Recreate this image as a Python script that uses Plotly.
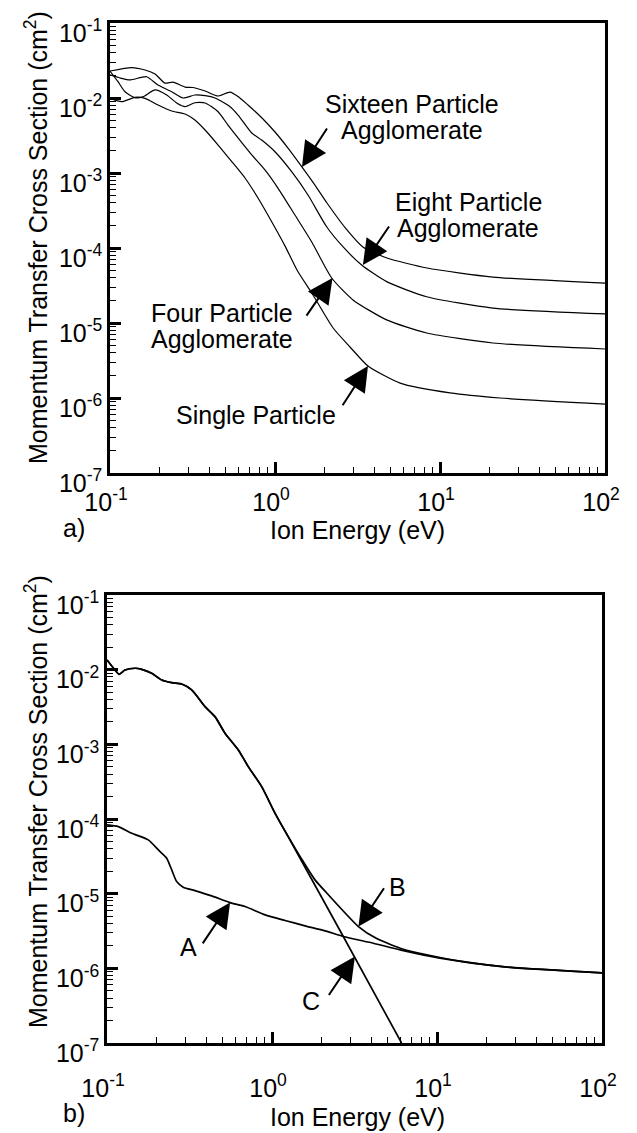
import math
import plotly.graph_objects as go

# ---------------- Panel a) data (Ion energy in eV, cross section in cm^2) ----------------
e16 = [0.1, 0.1355, 0.163, 0.1875, 0.215, 0.241, 0.285, 0.319, 0.377, 0.452, 0.534, 0.597, 0.686,
       0.834, 1.0, 1.199, 1.459, 1.746, 2.065, 2.73, 3.41, 4.77, 8.34, 20.9, 100]
s16 = [0.0229, 0.0254, 0.0236, 0.0209, 0.0158, 0.0163, 0.0140, 0.0138, 0.0124, 0.01063, 0.0120, 0.01047,
       0.00807, 0.00541, 0.00352, 0.00215, 0.0012, 0.00069, 0.000398, 0.000174, 0.000103, 7.36e-5,
       5.41e-5, 4.1e-5, 3.41e-5]

e8 = [0.1, 0.115, 0.132, 0.1667, 0.1954, 0.2366, 0.2768, 0.327, 0.377, 0.433, 0.534, 0.597, 0.723,
      0.83, 1.0, 1.262, 1.585, 2.056, 2.58, 3.35, 4.75, 8.3, 20.9, 100]
s8 = [0.0203, 0.0185, 0.0174, 0.0192, 0.0149, 0.01213, 0.0100, 0.01096, 0.01073, 0.0100, 0.00766,
      0.00593, 0.00341, 0.00275, 0.00192, 0.00104, 0.000509, 0.000192, 0.000104, 5.93e-5, 3.56e-5,
      2.24e-5, 1.58e-5, 1.32e-5]

e4 = [0.1, 0.1118, 0.1233, 0.1418, 0.1585, 0.1875, 0.2207, 0.2536, 0.285, 0.327, 0.377, 0.452, 0.519,
      0.597, 0.723, 0.869, 1.042, 1.321, 1.667, 2.206, 2.97, 4.75, 8.3, 20.9, 100]
s4 = [0.0229, 0.0165, 0.01213, 0.01009, 0.0104, 0.0128, 0.01096, 0.00858, 0.00766, 0.00865, 0.00858,
      0.00656, 0.00436, 0.00293, 0.00174, 0.0011, 0.00063, 0.000275, 0.000121, 3.98e-5, 2.03e-5,
      1.1e-5, 7.36e-6, 5.41e-6, 4.5e-6]

e1 = [0.1, 0.1177, 0.1418, 0.163, 0.1954, 0.2366, 0.285, 0.327, 0.377, 0.452, 0.547, 0.658, 0.789,
      0.955, 1.151, 1.359, 1.7, 2.25, 2.85, 3.66, 5.73, 11.5, 23.1, 100]
s1 = [0.0099, 0.00893, 0.0102, 0.0099, 0.00807, 0.00671, 0.00612, 0.00509, 0.00374, 0.00236, 0.00142,
      0.000858, 0.000464, 0.000224, 0.000106, 5.09e-5, 2.36e-5, 8.58e-6, 4.79e-6, 2.67e-6, 1.58e-6,
      1.17e-6, 1.0e-6, 8.3e-7]

# ---------------- Panel b) data ----------------
eB = [0.1, 0.1118, 0.1183, 0.1286, 0.1479, 0.1623, 0.1866, 0.2146, 0.2467, 0.2836, 0.326, 0.3926,
      0.4514, 0.519, 0.625, 0.718, 0.866, 1.042, 1.255, 1.514, 1.822, 2.147, 3.34, 4.31, 6.25, 8.67,
      13.8, 27.7, 100]
sB = [0.01349, 0.0099, 0.00867, 0.0099, 0.01044, 0.0101, 0.00895, 0.00728, 0.0067, 0.00644, 0.00535,
      0.0032, 0.00235, 0.00141, 0.000841, 0.000503, 0.000271, 0.00012, 5.81e-5, 2.9e-5, 1.53e-5,
      1.02e-5, 3.63e-6, 2.5e-6, 1.8e-6, 1.52e-6, 1.25e-6, 1.03e-6, 8.7e-7]

eC = [0.1, 0.1118, 0.1183, 0.1286, 0.1479, 0.1623, 0.1866, 0.2146, 0.2467, 0.2836, 0.326, 0.3926,
      0.4514, 0.519, 0.625, 0.718, 0.866, 1.042, 1.255, 1.514, 2.704, 6.1]
sC = [0.01349, 0.0099, 0.00867, 0.0099, 0.01044, 0.0101, 0.00895, 0.00728, 0.0067, 0.00644, 0.00535,
      0.0032, 0.00235, 0.00141, 0.000841, 0.000503, 0.000271, 0.00012, 5.75e-5, 2.72e-5, 2.67e-6, 1.0e-7]

eA = [0.1, 0.1171, 0.1412, 0.178, 0.2046, 0.23, 0.2467, 0.2644, 0.2897, 0.341, 0.431, 0.556, 0.686,
      0.908, 1.2, 1.585, 2.096, 2.704, 4.11, 5.97, 10.4, 24.1, 100]
sA = [8.34e-5, 7.91e-5, 6.45e-5, 5.25e-5, 3.86e-5, 2.99e-5, 2.08e-5, 1.45e-5, 1.22e-5, 1.1e-5, 9.34e-6,
      7.6e-6, 6.72e-6, 5.2e-6, 4.37e-6, 3.71e-6, 3.18e-6, 2.67e-6, 2.17e-6, 1.77e-6, 1.37e-6, 1.06e-6,
      8.7e-7]

x_major = [0.1, 1, 10, 100]
x_labels = ["10<sup>-1</sup>", "10<sup>0</sup>", "10<sup>1</sup>", "10<sup>2</sup>"]
y_major = [1e-7, 1e-6, 1e-5, 1e-4, 1e-3, 1e-2, 1e-1]
y_labels = ["10<sup>-7</sup>", "10<sup>-6</sup>", "10<sup>-5</sup>", "10<sup>-4</sup>",
            "10<sup>-3</sup>", "10<sup>-2</sup>", "10<sup>-1</sup>"]

W, H = 637, 1133
OFF = 8  # page body margin of the html page
FONT = "Arial, Liberation Sans, sans-serif"
FS = 25

fig = go.Figure()
line_a = dict(color="black", width=1.2, shape="spline", smoothing=0.6)
line_b = dict(color="black", width=1.7, shape="spline", smoothing=0.6)
for ex, sy in [(e16, s16), (e8, s8), (e4, s4), (e1, s1)]:
    fig.add_trace(go.Scatter(x=ex, y=sy, mode="lines", line=line_a, xaxis="x", yaxis="y",
                             showlegend=False, hoverinfo="skip"))
for ex, sy in [(eB, sB), (eC, sC), (eA, sA)]:
    fig.add_trace(go.Scatter(x=ex, y=sy, mode="lines", line=line_b, xaxis="x2", yaxis="y2",
                             showlegend=False, hoverinfo="skip", cliponaxis=True))

minor_x = [m * d for d in (0.1, 1, 10) for m in range(2, 10)]
minor_y = [m * d for d in (1e-7, 1e-6, 1e-5, 1e-4, 1e-3, 1e-2) for m in range(2, 10)]


def xdom(a, b):
    return [(a - OFF) / W, (b - OFF) / W]


def ydom(top, bottom):
    return [1 - (bottom - OFF) / H, 1 - (top - OFF) / H]


def xaxis(domain, standoff, anchor):
    return dict(type="log", range=[-1, 2], domain=domain, anchor=anchor, automargin=False,
                tickmode="array", tickvals=x_major, ticktext=x_labels,
                ticks="inside", ticklen=11, tickwidth=2.5, tickcolor="black",
                minor=dict(tickmode="array", tickvals=minor_x, ticks="inside", ticklen=6,
                           tickwidth=1.2, tickcolor="black", showgrid=False),
                showline=True, linewidth=2.5, linecolor="black", mirror=True,
                showgrid=False, zeroline=False, ticklabelstandoff=standoff, ticklabelshift=-4,
                tickfont=dict(family=FONT, size=FS, color="black"))


def yaxis(domain, anchor):
    return dict(type="log", range=[-7, -1], domain=domain, anchor=anchor, automargin=False,
                tickmode="array", tickvals=y_major, ticktext=y_labels,
                ticks="inside", ticklen=11, tickwidth=2.5, tickcolor="black",
                minor=dict(tickmode="array", tickvals=minor_y, ticks="inside", ticklen=6,
                           tickwidth=1.2, tickcolor="black", showgrid=False),
                showline=True, linewidth=2.5, linecolor="black", mirror=True,
                showgrid=False, zeroline=False, ticklabelstandoff=0, ticklabelshift=10,
                tickfont=dict(family=FONT, size=FS, color="black"))


fig.update_layout(
    width=W, height=H, margin=dict(l=0, r=0, t=0, b=0, autoexpand=False),
    paper_bgcolor="white", plot_bgcolor="white",
    font=dict(family=FONT, size=FS, color="black"),
    xaxis=xaxis(xdom(110, 605), 5, "y"),
    yaxis=yaxis(ydom(23, 473), "x"),
    xaxis2=xaxis(xdom(107, 602), 21, "y2"),
    yaxis2=yaxis(ydom(595, 1043), "x2"),
)

L = math.log10
ann = []


def text(xr, yr, x, y, t):
    ann.append(dict(xref=xr, yref=yr, x=L(x), y=L(y), text=t, showarrow=False,
                    xanchor="center", yanchor="middle", align="center",
                    font=dict(family=FONT, size=FS, color="black")))


def arrow(xr, yr, tip, tail):
    ann.append(dict(xref=xr, yref=yr, x=L(tip[0]), y=L(tip[1]),
                    axref=xr, ayref=yr, ax=L(tail[0]), ay=L(tail[1]),
                    text="", showarrow=True, arrowhead=2, arrowsize=2.5, arrowwidth=2,
                    arrowcolor="black", standoff=0, startstandoff=0))


# panel a labels
text("x", "y", 6.76, 8.32e-3, "Sixteen Particle")
text("x", "y", 6.76, 3.74e-3, "Agglomerate")
text("x", "y", 14.8, 4.1e-4, "Eight Particle")
text("x", "y", 14.8, 1.85e-4, "Agglomerate")
text("x", "y", 0.477, 1.36e-5, "Four Particle")
text("x", "y", 0.477, 6.12e-6, "Agglomerate")
text("x", "y", 0.767, 5.93e-7, "Single Particle")
arrow("x", "y", (1.457, 1.2e-3), (2.094, 4.1e-3))
arrow("x", "y", (3.41, 5.93e-5), (4.98, 2.03e-4))
arrow("x", "y", (2.23, 3.98e-5), (1.53, 1.2e-5))
arrow("x", "y", (3.66, 2.67e-6), (2.535, 7.66e-7))

# panel b labels
text("x2", "y2", 0.31, 1.94e-6, "A")
text("x2", "y2", 5.77, 1.23e-5, "B")
text("x2", "y2", 1.72, 3.67e-7, "C")
arrow("x2", "y2", (0.557, 7.6e-6), (0.375, 2.06e-6))
arrow("x2", "y2", (3.34, 3.63e-6), (4.84, 1.24e-5))
arrow("x2", "y2", (3.18, 1.44e-6), (2.18, 4.2e-7))


def ptext(px, py, t, angle=0):
    ann.append(dict(xref="paper", yref="paper", x=(px - OFF) / W, y=1 - (py - OFF) / H, text=t,
                    showarrow=False, xanchor="center", yanchor="middle", textangle=angle,
                    font=dict(family=FONT, size=FS, color="black")))


ytitle = "Momentum Transfer Cross Section (cm<sup>2</sup>)"
ptext(36, 238, ytitle, -90)
ptext(36, 802, ytitle, -90)
ptext(357, 530, "Ion Energy (eV)")
ptext(357, 1117, "Ion Energy (eV)")
ptext(74, 528, "a)")
ptext(74, 1113, "b)")

fig.update_layout(annotations=ann)
fig.write_html("out.html")
